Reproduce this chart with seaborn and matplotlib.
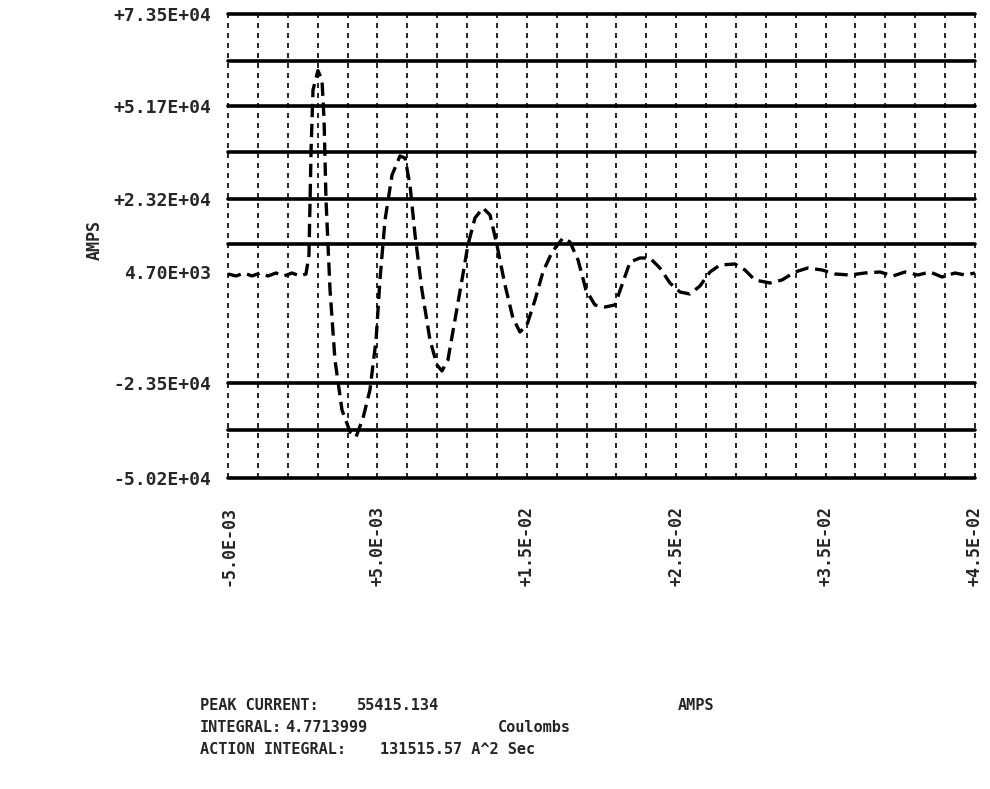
import numpy as np
import pandas as pd
import seaborn as sns
import matplotlib
matplotlib.use("Agg")
from matplotlib import pyplot as plt

# current waveform: time (s), current (A)
time_s = [-0.00500, -0.00446, -0.00393, -0.00339, -0.00286, -0.00232, -0.00179, -0.00125,
          -0.00072, -0.00018, 0.00022, 0.00042, 0.00056, 0.00069, 0.00102, 0.00129,
          0.00143, 0.00156, 0.00183, 0.00216, 0.00263, 0.00317, 0.00357, 0.00404,
          0.00450, 0.00491, 0.00517, 0.00551, 0.00598, 0.00651, 0.00685, 0.00718,
          0.00752, 0.00798, 0.00852, 0.00899, 0.00932, 0.00972, 0.01019, 0.01066,
          0.01106, 0.01153, 0.01207, 0.01254, 0.01300, 0.01354, 0.01407, 0.01454,
          0.01501, 0.01555, 0.01608, 0.01669, 0.01742, 0.01789, 0.01843, 0.01896,
          0.01956, 0.02023, 0.02090, 0.02137, 0.02191, 0.02258, 0.02324, 0.02391,
          0.02458, 0.02525, 0.02592, 0.02659, 0.02726, 0.02793, 0.02893, 0.02960,
          0.03027, 0.03128, 0.03208, 0.03295, 0.03382, 0.03476, 0.03563, 0.03663,
          0.03763, 0.03864, 0.03951, 0.04031, 0.04118, 0.04199, 0.04279, 0.04366,
          0.04433, 0.04500]
current_a = [4210, 3677, 4476, 3677, 4476, 3677, 4476, 3677,
             4476, 3677, 4210, 9273, 37256, 53246, 58415, 55911,
             45251, 23931, -54, -18709, -32034, -37897, -39230, -34166,
             -26704, -13379, 2611, 18601, 30593, 35657, 35124, 27928,
             14603, -54, -13379, -20042, -21641, -18709, -8049, 2611,
             11938, 19134, 21799, 19933, 11938, 1278, -7516, -11247,
             -9382, -2719, 4743, 10073, 13804, 12738, 7941, -54,
             -4052, -4585, -4052, 1278, 7408, 8474, 8474, 5809,
             1811, -587, -1120, 1012, 4743, 6608, 6875, 5276,
             2611, 1811, 2611, 4743, 5809, 5276, 4210, 3943,
             4476, 4743, 3677, 4743, 3943, 4743, 3410, 4476,
             3943, 4476]

# solid horizontal rules (A) and dashed vertical rules (s)
hline_levels = [73500, 60975, 48980, 36720, 24200, 12200, -24840, -37370, -50160]
vline_times = [-0.005 + 0.002 * i for i in range(26)]

ytick_pos = [73500, 48980, 24200, 4700, -24840, -50160]
ytick_lbl = ["+7.35E+04", "+5.17E+04", "+2.32E+04", "4.70E+03", "-2.35E+04", "-5.02E+04"]
xtick_pos = [-0.005, 0.005, 0.015, 0.025, 0.035, 0.045]
xtick_lbl = ["-5.0E-03", "+5.0E-03", "+1.5E-02", "+2.5E-02", "+3.5E-02", "+4.5E-02"]

sns.set_style("white")
plt.rcParams['font.family'] = ['DejaVu Sans Mono', 'DejaVu Sans']

fig = plt.figure(figsize=(9.9, 7.89), dpi=100)
ax = fig.add_axes([228 / 990, 1 - 478 / 789, (975 - 228) / 990, (478 - 14) / 789])

for y in hline_levels:
    ax.axhline(y, color="black", lw=2.6, clip_on=False, zorder=2)
for x in vline_times:
    ax.axvline(x, color="black", lw=1.2, ls=(0, (3, 3)), clip_on=False, zorder=1)

df = pd.DataFrame({"t": time_s, "i": current_a})
sns.lineplot(data=df, x="t", y="i", ax=ax, color="black", lw=2.4,
             linestyle=(0, (4, 2)), sort=False, zorder=3)

ax.set_xlim(-0.005, 0.045)
ax.set_ylim(-50160, 73500)
for s in ax.spines.values():
    s.set_visible(False)
ax.set_xlabel("")
ax.set_ylabel("")
ax.set_yticks(ytick_pos)
ax.set_yticklabels(ytick_lbl, fontsize=13, fontweight="bold")
ax.set_xticks(xtick_pos)
ax.set_xticklabels(xtick_lbl, fontsize=12, fontweight="bold", rotation=90)
ax.tick_params(axis="y", length=0, pad=12)
ax.tick_params(axis="x", length=0, pad=20)

fig.text(95 / 990, 1 - 240 / 789, "AMPS", rotation=90, ha="center", va="center",
         fontsize=12, fontweight="bold")

rows = [
    (200, 705, "PEAK CURRENT:"), (357, 705, "55415.134"), (678, 705, "AMPS"),
    (200, 727, "INTEGRAL:"), (285, 727, "4.7713999"), (498, 727, "Coulombs"),
    (200, 750, "ACTION INTEGRAL:"), (380, 750, "131515.57 A^2 Sec"),
]
for x, y, txt in rows:
    fig.text(x / 990, 1 - y / 789, txt, ha="left", va="center", fontsize=11,
             fontweight="bold")

fig.savefig("out.png", dpi=100)
